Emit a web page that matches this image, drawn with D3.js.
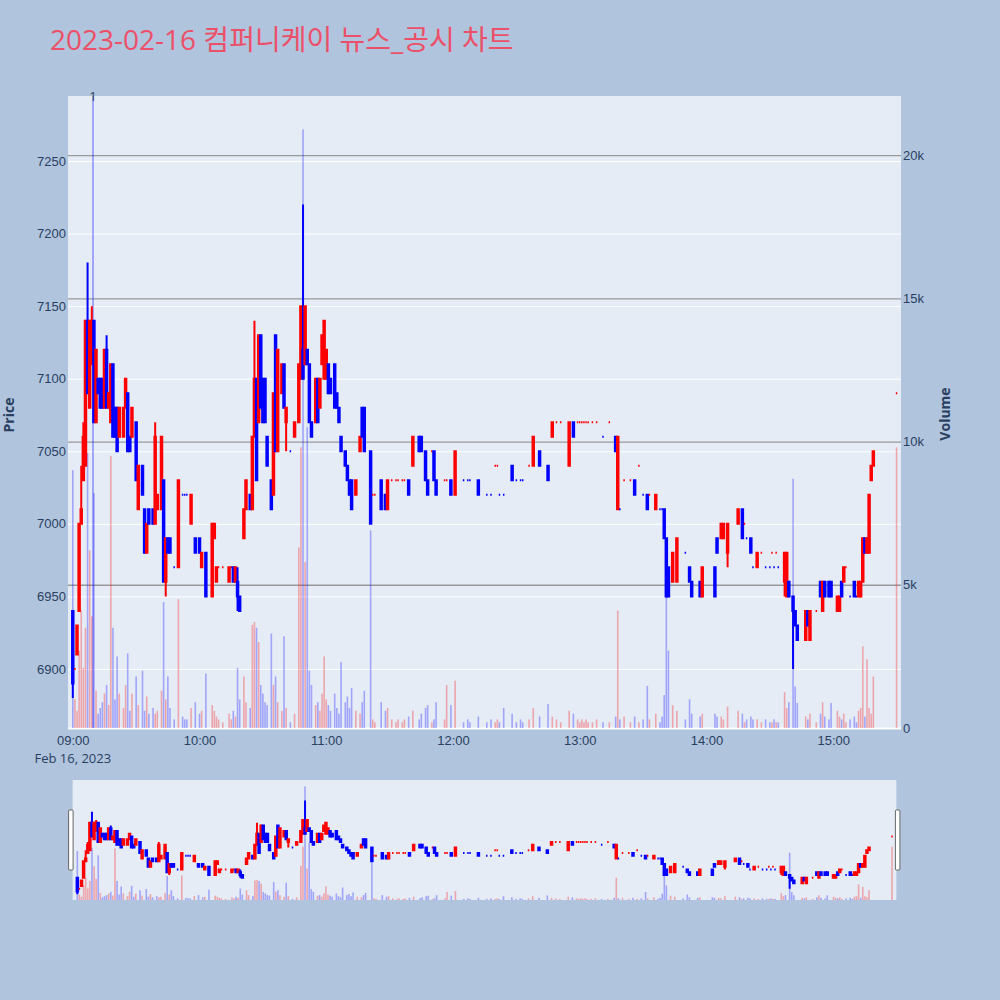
<!DOCTYPE html>
<html>
<head>
<meta charset="utf-8">
<script src="https://cdn.jsdelivr.net/npm/d3@7"></script>
<style>
  body { margin: 0; background: #b0c4de; }
  svg { display: block; font-family: "Open Sans", "Noto Sans CJK KR", sans-serif; }
</style>
</head>
<body>
<svg id="chart" width="1000" height="1000"></svg>
<script>
const titleText = "2023-02-16 컴퍼니케이 뉴스_공시 차트";
const tradeDay = "2023-02-16";

// [minute after 09:00, open, high, low, close, volume]
const bars09 = [
  [0,6940,6940,6880,6890,9000],[1,6900,6900,6900,6900,1000],[2,6910,6930,6910,6930,600],
  [3,6940,7000,6940,7000,2700],[4,7000,7040,7000,7010,4100],[5,7030,7070,7030,7060,2100],
  [6,7040,7140,7040,7140,3500],[7,7140,7180,7090,7090,9600],[8,7080,7140,7080,7140,6200],
  [9,7110,7150,7110,7140,3900],[10,7140,7140,7070,7070,8200],[11,7070,7120,7070,7120,1300],
  [12,7100,7100,7090,7090,500],[13,7100,7100,7080,7080,700],[14,7100,7100,7080,7080,900],
  [15,7080,7120,7080,7120,1200],[16,7120,7130,7080,7080,1500],[17,7080,7090,7080,7090,800],
  [18,7070,7110,7070,7110,9500],[19,7110,7110,7060,7060,3500],[20,7080,7080,7060,7060,1000],
  [21,7080,7080,7050,7050,2500],[22,7060,7080,7060,7080,1200],[24,7060,7080,7060,7080,700],
  [25,7080,7100,7080,7100,1500],[26,7090,7090,7050,7050,2600],[27,7060,7060,7050,7050,600],
  [28,7060,7080,7060,7080,1200],[30,7070,7070,7030,7030,1800],[31,7010,7040,7010,7040,800],
  [33,7040,7040,7020,7020,2000],[34,7010,7010,6980,6980,600],[35,6980,7000,6980,7000,1100],
  [36,7010,7010,7000,7000,500],[38,7010,7010,7000,7000,700],[39,7000,7070,7000,7060,500],
  [40,7010,7020,7010,7020,600],[42,7010,7060,7010,7060,1300],[43,7030,7030,6960,6960,4400],
  [44,6960,6990,6950,6990,1000],[45,6990,6990,6980,6980,1800],[46,6990,6990,6980,6980,700],
  [48,6970,6970,6970,6970,300],[50,6970,7030,6970,7030,4500],[52,7020,7020,7020,7020,400],
  [53,7020,7020,7020,7020,300],[54,7020,7020,7020,7020,300],[56,7000,7020,7000,7020,700],
  [58,6990,6990,6980,6980,900]
];
const bars10 = [
  [60,6990,6990,6980,6980,500],[61,6970,6980,6970,6980,600],[63,6980,6980,6950,6950,1900],
  [66,6950,7000,6950,7000,800],[67,6990,7000,6990,7000,600],[68,6960,6970,6960,6970,400],
  [69,6970,6970,6970,6970,300],[71,6970,6970,6970,6970,200],[74,6960,6970,6960,6970,500],
  [75,6970,6970,6970,6970,300],[76,6970,6970,6960,6960,600],[77,6960,6970,6960,6970,400],
  [78,6960,6970,6940,6950,2100],[79,6950,6950,6940,6940,1000],[81,6990,7010,6990,7010,1800],
  [82,7010,7030,7010,7030,900],[84,7020,7020,7010,7010,700],[85,7010,7060,7010,7060,3600],
  [86,7060,7140,7060,7100,3700],[87,7100,7100,7030,7030,3500],[88,7070,7130,7070,7130,3000],
  [89,7130,7130,7080,7080,1500],[90,7100,7100,7070,7070,1200],[91,7100,7100,7070,7070,900],
  [92,7060,7060,7040,7040,800],[94,7030,7030,7010,7010,3300],[95,7020,7090,7020,7090,1500],
  [96,7130,7130,7050,7050,1800],[97,7050,7120,7050,7120,900],[99,7090,7110,7090,7110,600],
  [100,7110,7110,7080,7080,3200],[101,7070,7080,7050,7080,700],[103,7050,7050,7050,7050,200],
  [105,7060,7070,7060,7070,500],[107,7070,7110,7070,7110,6300],[108,7100,7150,7100,7150,9800],
  [109,7120,7220,7100,7100,20900],[110,7110,7150,7110,7150,5800],[111,7120,7120,7110,7110,10500],
  [112,7110,7110,7070,7070,2000],[113,7070,7070,7060,7060,1500],[115,7070,7100,7070,7100,800],
  [116,7100,7100,7070,7070,900],[117,7080,7100,7080,7100,600],[118,7110,7130,7110,7130,1200],
  [119,7100,7140,7100,7140,2500]
];
const bars11 = [
  [120,7100,7120,7100,7120,1000],[121,7110,7110,7090,7090,800],[122,7100,7100,7090,7090,600],
  [124,7110,7110,7080,7080,1200],[125,7090,7090,7080,7080,700],[126,7080,7080,7070,7070,500],
  [127,7060,7060,7050,7050,2300],[129,7050,7050,7040,7040,900],[130,7040,7040,7030,7030,1100],
  [131,7030,7030,7020,7020,700],[132,7030,7030,7010,7010,1400],[134,7020,7030,7020,7030,600],
  [136,7050,7060,7050,7060,500],[137,7080,7080,7060,7060,900],[138,7080,7080,7050,7050,1300],
  [141,7050,7050,7000,7000,6900],[142,7020,7020,7020,7020,300],[143,7020,7020,7020,7020,200],
  [146,7030,7030,7010,7010,900],[148,7020,7020,7010,7010,600],[149,7010,7030,7010,7030,700],
  [151,7030,7030,7030,7030,300],[153,7030,7030,7030,7030,200],[154,7030,7030,7030,7030,300],
  [156,7030,7030,7030,7030,200],[157,7030,7030,7030,7030,300],[159,7030,7030,7020,7020,400],
  [161,7040,7060,7040,7060,600],[164,7060,7060,7050,7050,300],[165,7060,7060,7050,7050,500],
  [167,7050,7050,7030,7030,700],[168,7030,7030,7020,7020,800],[170,7050,7050,7050,7050,200],
  [171,7050,7050,7030,7030,300],[172,7030,7030,7020,7020,900],[176,7030,7030,7030,7030,300],
  [177,7030,7030,7030,7030,1500],[179,7030,7030,7020,7020,800]
];
const bars12 = [
  [181,7020,7050,7020,7050,1650],[185,7030,7030,7030,7030,200],[187,7030,7030,7030,7030,300],
  [188,7030,7030,7030,7030,200],[192,7030,7030,7020,7020,400],[196,7020,7020,7020,7020,200],
  [198,7020,7020,7020,7020,300],[200,7040,7040,7040,7040,200],[201,7040,7040,7040,7040,300],
  [202,7020,7020,7020,7020,200],[204,7020,7020,7020,7020,700],[208,7040,7040,7030,7030,500],
  [210,7030,7030,7030,7030,200],[212,7030,7030,7030,7030,300],[213,7030,7030,7030,7030,200],
  [216,7040,7040,7040,7040,300],[218,7040,7060,7040,7060,700],[221,7050,7050,7040,7040,400],
  [225,7040,7040,7030,7030,840],[227,7060,7070,7060,7070,400],[229,7070,7070,7070,7070,300],
  [231,7070,7070,7070,7070,200],[235,7040,7070,7040,7070,600],[237,7070,7070,7060,7060,500],
  [239,7070,7070,7070,7070,300]
];
const bars13 = [
  [240,7070,7070,7070,7070,200],[241,7070,7070,7070,7070,300],[242,7070,7070,7070,7070,200],
  [243,7070,7070,7070,7070,300],[244,7070,7070,7070,7070,200],[246,7070,7070,7070,7070,200],
  [248,7070,7070,7070,7070,300],[251,7060,7060,7060,7060,200],[254,7070,7070,7070,7070,200],
  [257,7060,7060,7050,7050,400],[258,7010,7060,7010,7060,4100],[259,7010,7010,7010,7010,300],
  [261,7030,7030,7030,7030,400],[264,7030,7030,7030,7030,200],[266,7030,7030,7020,7020,400],
  [268,7040,7040,7040,7040,200],[270,7020,7020,7020,7020,300],[272,7020,7020,7010,7010,1470],
  [273,7020,7020,7020,7020,300],[276,7010,7020,7010,7020,500],[278,7010,7010,7010,7010,200],
  [279,7010,7010,7010,7010,400],[280,7010,7010,6990,6990,1150],[281,6990,6990,6950,6950,6400],
  [282,6970,6970,6950,6950,2700],[284,6960,6980,6960,6980,800],[286,6960,6990,6960,6990,600],
  [290,6980,6980,6980,6980,300],[292,6970,6970,6960,6960,1000],[293,6960,6960,6950,6950,500],
  [297,6960,6960,6950,6950,400],[298,6950,6970,6950,6970,500]
];
const bars14 = [
  [304,6970,6970,6950,6950,500],[305,6990,6990,6980,6980,400],[307,6990,7000,6990,7000,400],
  [308,6990,7000,6990,7000,300],[310,6980,7000,6970,7000,750],[315,7000,7010,7000,7010,600],
  [317,7010,7010,6990,6990,500],[318,7000,7000,7000,7000,200],[319,6990,6990,6990,6990,300],
  [321,6990,6990,6980,6980,400],[322,6970,6970,6970,6970,300],[324,6970,6980,6970,6980,300],
  [326,6980,6980,6980,6980,200],[328,6970,6970,6970,6970,300],[330,6970,6970,6970,6970,200],
  [331,6980,6980,6980,6980,200],[332,6970,6970,6970,6970,300],[333,6980,6980,6980,6980,200],
  [334,6970,6970,6970,6970,200],[337,6960,6980,6950,6980,1250],[338,6950,6980,6950,6980,700],
  [339,6960,6960,6950,6950,900],[341,6950,6950,6900,6940,8700],[342,6940,6940,6930,6930,1450],
  [343,6930,6930,6920,6920,870],[347,6920,6940,6920,6940,400],[348,6940,6940,6930,6930,300],
  [349,6920,6940,6920,6940,500],[352,6940,6940,6940,6940,200],[354,6960,6960,6950,6950,500],
  [355,6940,6960,6940,6960,900],[356,6960,6960,6950,6950,400],[358,6960,6960,6950,6950,300],
  [359,6960,6960,6950,6950,870]
];
const bars15 = [
  [362,6940,6950,6940,6950,600],[363,6940,6950,6940,6950,400],[364,6960,6960,6950,6950,300],
  [365,6960,6970,6960,6970,500],[366,6970,6970,6970,6970,200],[368,6950,6950,6950,6950,300],
  [370,6960,6960,6950,6950,400],[371,6950,6950,6950,6950,200],[372,6950,6960,6950,6960,600],
  [373,6950,6960,6950,6960,700],[374,6960,6990,6960,6990,2850],[375,6990,6990,6980,6980,400],
  [376,6980,6990,6980,6990,2400],[377,6980,7020,6980,7020,700],[378,7030,7040,7030,7040,500],
  [379,7040,7050,7040,7050,1800],[390,7090,7090,7090,7090,9800]
];

const priceTicks = [6900, 6950, 7000, 7050, 7100, 7150, 7200, 7250];
const volumeTicks = [0, 5000, 10000, 15000, 20000];
const timeTicks = ["09:00", "10:00", "11:00", "12:00", "13:00", "14:00", "15:00"];
const newsTimes = ["09:09:34"];
const newsLabels = ["1"];

const upColor = "#ff0000", downColor = "#0000ff";

const parseTime = d3.timeParse("%Y-%m-%d %H:%M:%S");
const t0 = parseTime(tradeDay + " 09:00:00");
const atMinute = m => new Date(t0.getTime() + m * 60000);

// build bars + plotly-like direction (equal open/close -> compare with previous close)
const bars = [].concat(bars09, bars10, bars11, bars12, bars13, bars14, bars15)
  .map(r => ({ t: atMinute(r[0]), o: r[1], h: r[2], l: r[3], c: r[4], v: r[5] }));
let prevC = null, prevUp = true;
bars.forEach(b => {
  let up;
  if (b.c > b.o) up = true;
  else if (b.c < b.o) up = false;
  else if (prevC !== null && b.c !== prevC) up = b.c > prevC;
  else up = prevUp;
  b.up = up; prevC = b.c; prevUp = up;
});

const svg = d3.select("#chart");
const L = 68, R = 901, T = 96, B = 728;

const x = d3.scaleTime().domain([atMinute(-2.27), atMinute(392.1)]).range([L, R]);
const y = d3.scaleLinear().domain([6859.3, 7294.8]).range([B, T]);
const yv = d3.scaleLinear().domain([0, 22063]).range([B, T]);

// title
svg.append("text")
  .attr("x", 50).attr("y", 50)
  .attr("fill", "#ec5068")
  .style("font-size", "28px")
  .text(titleText);

// plot background
svg.append("rect").attr("x", L).attr("y", T).attr("width", R - L).attr("height", B - T).attr("fill", "#e5ecf6");

// price grid + labels
const gy = svg.append("g").attr("transform", `translate(${L},0)`)
  .call(d3.axisLeft(y).tickValues(priceTicks).tickSize(-(R - L)).tickPadding(2).tickFormat(d3.format("d")));
gy.select(".domain").remove();
gy.selectAll("line").attr("stroke", "#fff").attr("stroke-width", 1);
gy.selectAll("text").attr("fill", "#2a3f5f").style("font-size", "13px");

// volume grid + labels
const gv = svg.append("g").attr("transform", `translate(${R},0)`)
  .call(d3.axisRight(yv).tickValues(volumeTicks).tickSize(-(R - L)).tickPadding(2).tickFormat(d3.format("~s")));
gv.select(".domain").remove();
gv.selectAll("line").attr("stroke", d => d === 0 ? "#fff" : "#999").attr("stroke-width", d => d === 0 ? 2 : 1.3);
gv.selectAll("text").attr("fill", "#2a3f5f").style("font-size", "13px");

// time axis
const gx = svg.append("g").attr("transform", `translate(0,${B})`)
  .call(d3.axisBottom(x).tickValues(timeTicks.map(s => parseTime(tradeDay + " " + s + ":00")))
    .tickSize(0).tickPadding(8).tickFormat(d3.timeFormat("%H:%M")));
gx.select(".domain").remove();
gx.selectAll("text").attr("fill", "#2a3f5f").style("font-size", "13px");
svg.append("text").attr("x", x(t0)).attr("y", 763).attr("text-anchor", "middle")
  .attr("fill", "#2a3f5f").style("font-size", "13px").text("Feb 16, 2023");

// axis titles
svg.append("text").attr("transform", "translate(14,415) rotate(-90)").attr("text-anchor", "middle")
  .attr("fill", "#2a3f5f").style("font-size", "14px").style("font-weight", "bold").text("Price");
svg.append("text").attr("transform", "translate(950,414) rotate(-90)").attr("text-anchor", "middle")
  .attr("fill", "#2a3f5f").style("font-size", "14px").style("font-weight", "bold").text("Volume");

function drawVolume(g, xs, ys, base, bw) {
  g.selectAll("rect.vol").data(bars).join("rect").attr("class", "vol")
    .attr("x", d => xs(d.t) - bw / 2).attr("width", bw)
    .attr("y", d => ys(d.v)).attr("height", d => base - ys(d.v))
    .attr("fill", d => d.up ? upColor : downColor).attr("fill-opacity", 0.3);
}

function drawCandles(g, xs, ys) {
  const w = 0.74;
  g.selectAll("path.candle").data(bars).join("path").attr("class", "candle")
    .attr("d", d => {
      const xc = xs(d.t), yo = ys(d.o), yc = ys(d.c);
      return `M${xc - w},${yo}H${xc + w}V${yc}H${xc - w}Z` +
        `M${xc},${Math.min(yo, yc)}V${ys(d.h)}M${xc},${Math.max(yo, yc)}V${ys(d.l)}`;
    })
    .attr("fill", d => d.up ? upColor : downColor)
    .attr("stroke", d => d.up ? upColor : downColor)
    .attr("stroke-width", 2);
}

drawVolume(svg.append("g"), x, yv, B, 1.6);

// news marker line
newsTimes.forEach((s, i) => {
  const nx = x(parseTime(tradeDay + " " + s));
  svg.append("line").attr("x1", nx).attr("x2", nx).attr("y1", T).attr("y2", B)
    .attr("stroke", "rgba(0,0,255,0.3)").attr("stroke-width", 2);
  svg.append("text").attr("x", nx).attr("y", 101).attr("text-anchor", "middle")
    .attr("fill", "#2a3f5f").style("font-size", "13px").text(newsLabels[i]);
});

drawCandles(svg.append("g"), x, y);

// range slider
const sT = 780, sB = 900, sL = 72.6, sR = 896.4;
svg.append("rect").attr("x", sL).attr("y", sT).attr("width", sR - sL).attr("height", sB - sT).attr("fill", "#e5ecf6");
const sx = x.copy().range([sL, sR]);
const sy = y.copy().range([sB, sT]);
const syv = yv.copy().range([sB, sT]);
const slider = svg.append("g");
drawVolume(slider.append("g"), sx, syv, sB, 1.6);
drawCandles(slider.append("g"), sx, sy);
[sL - 4, sR - 1].forEach(hx => {
  svg.append("rect").attr("x", hx).attr("y", 810).attr("width", 4.5).attr("height", 60)
    .attr("rx", 1).attr("fill", "#fff").attr("stroke", "#666").attr("stroke-width", 1);
});
</script>
</body>
</html>
